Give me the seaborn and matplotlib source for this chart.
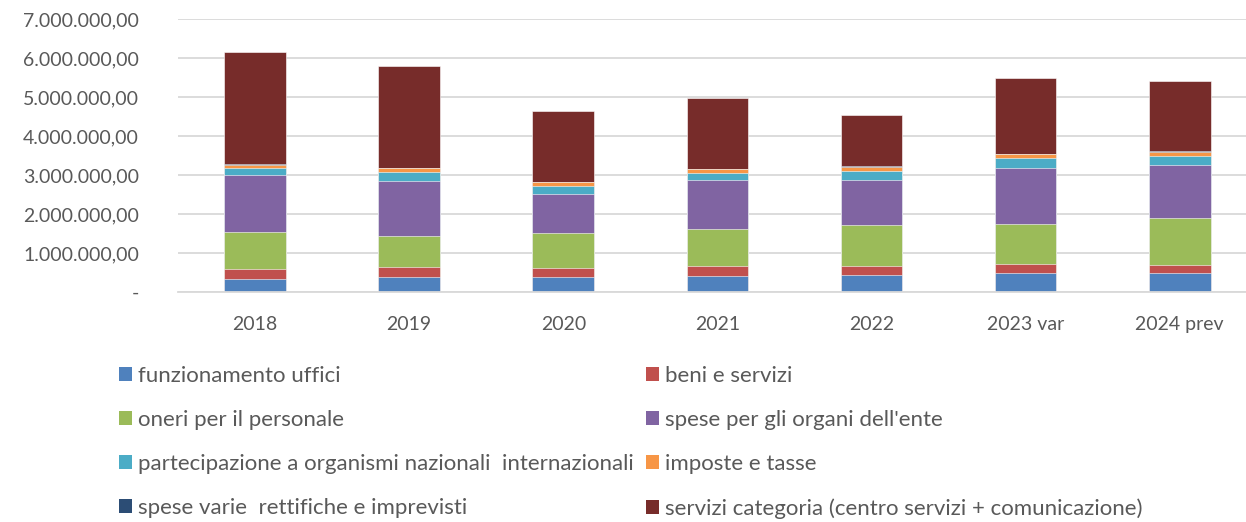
import numpy as np
import pandas as pd
import seaborn as sns
import matplotlib.pyplot as plt
from matplotlib.patches import Patch
from matplotlib.ticker import FuncFormatter, MultipleLocator

sns.set_theme(style="white")
plt.rcParams["font.family"] = ["Lato", "DejaVu Sans"]

################################ data

YEARS = ["2018", "2019", "2020", "2021", "2022", "2023 var", "2024 prev"]

CATEGORIES = [
    "funzionamento uffici",
    "beni e servizi",
    "oneri per il personale",
    "spese per gli organi dell'ente",
    "partecipazione a organismi nazionali  internazionali",
    "imposte e tasse",
    "spese varie  rettifiche e imprevisti",
    "servizi categoria (centro servizi + comunicazione)",
]

funzionamento = [340000, 390000, 380000, 410000, 440000, 480000, 480000]
beni_servizi = [250000, 260000, 240000, 250000, 230000, 250000, 220000]
oneri_personale = [950000, 780000, 890000, 960000, 1040000, 1020000, 1210000]
spese_organi = [1460000, 1410000, 1010000, 1260000, 1170000, 1440000, 1350000]
partecipazione = [190000, 230000, 210000, 180000, 230000, 250000, 230000]
imposte = [70000, 100000, 80000, 90000, 100000, 90000, 110000]
spese_varie = [10000, 10000, 10000, 10000, 10000, 10000, 20000]
servizi_categoria = [2880000, 2610000, 1810000, 1820000, 1310000, 1950000, 1800000]

SERIES = [funzionamento, beni_servizi, oneri_personale, spese_organi,
          partecipazione, imposte, spese_varie, servizi_categoria]

COLORS = ["#4F81BD", "#C0504D", "#9BBB59", "#8064A2",
          "#4BACC6", "#F79646", "#2C4D75", "#772C2A"]

TEXT_COLOR = "#595959"
GRID_COLOR = "#D9D9D9"
FONT_SIZE = 14
LEGEND_FONT_SIZE = 16

# stacked bars: draw cumulative totals, tallest first, so each layer covers the one above
cumulative = np.cumsum(np.array(SERIES, dtype=float), axis=0)
df = pd.DataFrame({
    "anno": np.tile(YEARS, len(CATEGORIES)),
    "voce": np.repeat(CATEGORIES, len(YEARS)),
    "totale": cumulative.ravel(),
})

################################ plotting

fig = plt.figure(figsize=(12.46, 5.22), dpi=100)
ax = fig.add_axes([178 / 1246, 1 - 292 / 522, 1 - 178 / 1246, (292 - 19) / 522])

for cat, color in reversed(list(zip(CATEGORIES, COLORS))):
    sns.barplot(ax=ax, data=df[df["voce"] == cat], x="anno", y="totale",
                order=YEARS, color=color, width=0.4, saturation=1,
                edgecolor="white", linewidth=0.4, errorbar=None)

ax.set_ylim(0, 7000000)
ax.set_xlim(-0.5, 6.43)
ax.set_xlabel("")
ax.set_ylabel("")


def it_format(v, pos):
    if v == 0:
        return "-"
    return f"{v:,.2f}".replace(",", "X").replace(".", ",").replace("X", ".")


ax.yaxis.set_major_locator(MultipleLocator(1000000))
ax.yaxis.set_major_formatter(FuncFormatter(it_format))
ax.tick_params(axis="y", length=0, pad=28, labelsize=FONT_SIZE, labelcolor=TEXT_COLOR)
ax.tick_params(axis="x", length=0, pad=17, labelsize=FONT_SIZE, labelcolor=TEXT_COLOR)

ax.set_axisbelow(True)
ax.yaxis.grid(True, color=GRID_COLOR, linewidth=1.3)
for side in ["top", "right", "left"]:
    ax.spines[side].set_visible(False)
ax.spines["bottom"].set(color=GRID_COLOR, linewidth=1.3)

# legend, row-wise order like the original (matplotlib fills column-wise)
handles = [Patch(facecolor=c, edgecolor="none", label=l) for l, c in zip(CATEGORIES, COLORS)]
order = [0, 2, 4, 6, 1, 3, 5, 7]
fig.legend(handles=[handles[i] for i in order], ncol=2,
           loc="upper left", bbox_to_anchor=(119 / 1246, 1 - 366 / 522),
           frameon=False, fontsize=LEGEND_FONT_SIZE, labelcolor=TEXT_COLOR,
           borderpad=0, borderaxespad=0,
           handlelength=0.6, handleheight=0.6, handletextpad=0.25,
           labelspacing=1.08, columnspacing=0.55)

fig.savefig("out.png", dpi=100)
plt.close()
